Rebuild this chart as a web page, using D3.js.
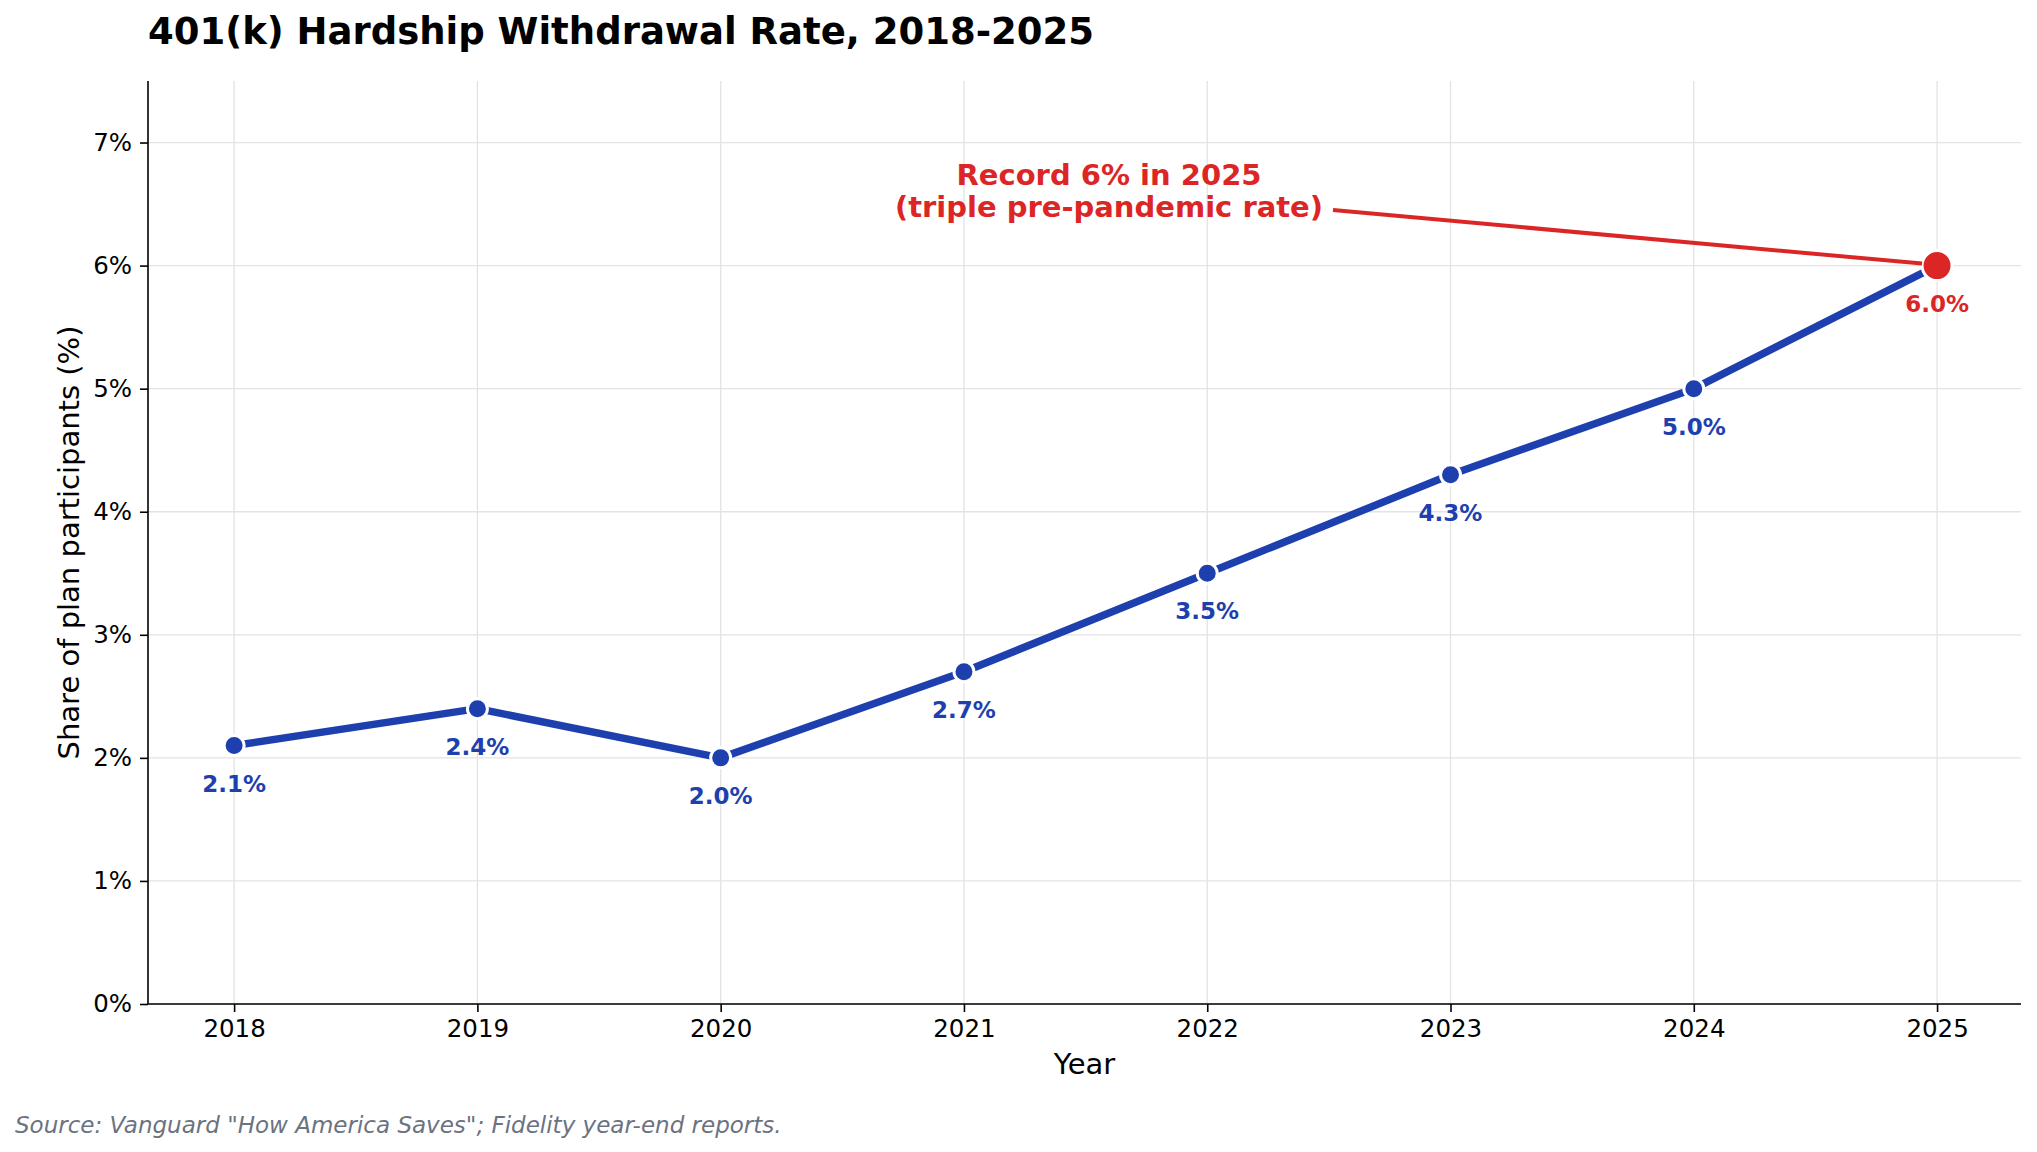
<!DOCTYPE html>
<html><head><meta charset="utf-8">
<script src="https://cdn.jsdelivr.net/npm/d3@7"></script>
<style>body{margin:0;background:#fff;font-family:"DejaVu Sans",sans-serif}</style>
</head><body><svg id="chart" width="2037" height="1152"></svg>
<script>
const years = [2018, 2019, 2020, 2021, 2022, 2023, 2024, 2025];
const rates = [2.1, 2.4, 2.0, 2.7, 3.5, 4.3, 5.0, 6.0];
const yTicks = [0, 1, 2, 3, 4, 5, 6, 7];

const svg = d3.select("#chart");
const m = {left: 148, right: 2021, top: 81, bottom: 1004};
const x = d3.scaleLinear().domain([2017.646, 2025.345]).range([m.left, m.right]);
const y = d3.scaleLinear().domain([0, 7.5]).range([m.bottom, m.top]);

// grid
svg.append("g").selectAll("line").data(years).join("line")
    .attr("x1", d => x(d)).attr("x2", d => x(d)).attr("y1", m.top).attr("y2", m.bottom)
    .attr("stroke", "#e3e3e3").attr("stroke-width", 1.3);
svg.append("g").selectAll("line").data(yTicks).join("line")
    .attr("x1", m.left).attr("x2", m.right).attr("y1", d => y(d)).attr("y2", d => y(d))
    .attr("stroke", "#e3e3e3").attr("stroke-width", 1.3);

// axes
const xa = svg.append("g").attr("transform", `translate(0,${m.bottom})`)
    .call(d3.axisBottom(x).tickValues(years).tickFormat(d3.format("d")).tickSize(8).tickPadding(8));
const ya = svg.append("g").attr("transform", `translate(${m.left},0)`)
    .call(d3.axisLeft(y).tickValues(yTicks).tickFormat(d => d + "%").tickSize(8).tickPadding(8));
[xa, ya].forEach(a => {
    a.selectAll("text").attr("font-size", 24.5).attr("font-family", "DejaVu Sans").attr("fill", "#000");
    a.selectAll("line,path").attr("stroke", "#000").attr("stroke-width", 1.6);
});
xa.select(".domain").attr("d", `M${m.left},0H${m.right}`);
ya.select(".domain").attr("d", `M0,${m.bottom}V${m.top}`);

svg.append("text").attr("x", (m.left + m.right) / 2).attr("y", 1074).attr("text-anchor", "middle")
    .attr("font-size", 29).text("Year");
svg.append("text").attr("transform", `translate(79,${(m.top + m.bottom) / 2}) rotate(-90)`)
    .attr("text-anchor", "middle").attr("font-size", 29).text("Share of plan participants (%)");
svg.append("text").attr("x", 148).attr("y", 44).attr("font-size", 37).attr("font-weight", "bold")
    .text("401(k) Hardship Withdrawal Rate, 2018-2025");
svg.append("text").attr("x", 15).attr("y", 1133).attr("font-size", 23).attr("font-style", "italic")
    .attr("fill", "#6b7280").text('Source: Vanguard "How America Saves"; Fidelity year-end reports.');

// line
const blue = "#1e40af", red = "#dc2626";
svg.append("path").datum(years.map((d, i) => [d, rates[i]]))
    .attr("d", d3.line().x(d => x(d[0])).y(d => y(d[1])))
    .attr("fill", "none").attr("stroke", blue).attr("stroke-width", 7.5).attr("stroke-linejoin", "round");
const pts = years.map((d, i) => ({year: d, v: rates[i], last: i === years.length - 1}));
svg.append("g").selectAll("circle").data(pts).join("circle")
    .attr("cx", d => x(d.year)).attr("cy", d => y(d.v))
    .attr("r", d => d.last ? 15 : 10)
    .attr("fill", d => d.last ? red : blue).attr("stroke", "#fff").attr("stroke-width", 3);
svg.append("g").selectAll("text").data(pts).join("text")
    .attr("x", d => x(d.year)).attr("y", d => y(d.v) + 46)
    .attr("text-anchor", "middle").attr("font-size", 23).attr("font-weight", "bold")
    .attr("fill", d => d.last ? red : blue).text(d => d.v.toFixed(1) + "%");

// annotation
const last = pts[pts.length - 1];
svg.append("line").attr("x1", 1333).attr("y1", 210)
    .attr("x2", x(last.year) - 15).attr("y2", y(last.v) - 2)
    .attr("stroke", red).attr("stroke-width", 4);
const ann = svg.append("text").attr("text-anchor", "middle").attr("font-size", 29)
    .attr("font-weight", "bold").attr("fill", red);
ann.append("tspan").attr("x", 1109).attr("y", 185).text("Record 6% in 2025");
ann.append("tspan").attr("x", 1109).attr("y", 217).text("(triple pre-pandemic rate)");
</script></body></html>
